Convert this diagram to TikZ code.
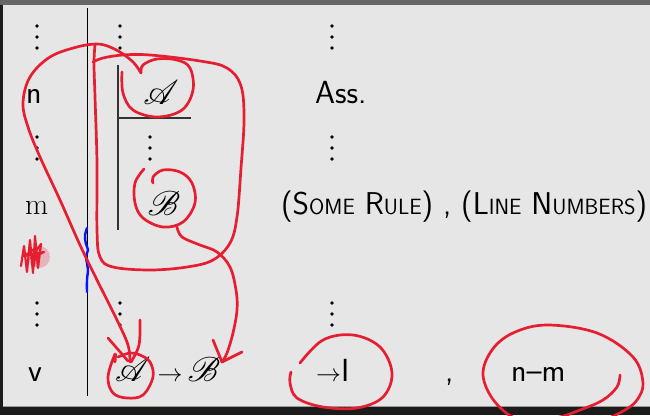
\documentclass[tikz,border=0pt]{standalone}
\usepackage{mathrsfs}
\usepackage{graphicx}
\definecolor{bg}{HTML}{E6E6E6}
\definecolor{topbar}{HTML}{666666}
\definecolor{darkbar}{HTML}{1C1C1C}
\definecolor{penred}{RGB}{230,30,50}
\definecolor{penblue}{RGB}{10,20,250}
\newcommand{\fsc}[2]{#1{\fontsize{22.4}{27}\selectfont #2}}
\newcommand{\scrbig}[1]{\scalebox{1.38}{\fontsize{24.88}{30}\selectfont$\mathscr{#1}$}}
\tikzset{
  lbl/.style={inner sep=0pt, anchor=base west, font=\sffamily\fontsize{32}{38}\selectfont},
  rlbl/.style={inner sep=0pt, anchor=base west, font=\rmfamily\fontsize{30}{36}\selectfont},
  mlbl/.style={inner sep=0pt, anchor=base},
  pen/.style={draw=penred, line width=2.7pt, line cap=round, line join=round},
  bpen/.style={draw=penblue, line width=2.4pt, line cap=round, line join=round},
  rule/.style={draw=black, line width=1pt},
  subrule/.style={draw=black!80, line width=1.2pt},
}
\begin{document}
\begin{tikzpicture}[x=1pt,y=-1pt]
\useasboundingbox (0,0) rectangle (650,415);
% frame
\fill[bg] (0,0) rectangle (650,415);
\fill[darkbar] (0,0) rectangle (3,415);
\fill[topbar] (0,0) rectangle (650,5);
\fill[darkbar] (0,406) rectangle (650,415);
\draw[black!40, line width=0.8pt] (3,406) -- (650,406);
% proof lines
\coordinate (mt) at (87,8); \coordinate (mb) at (87,396);
\draw[rule] (mt) -- (mb);
\coordinate (st) at (118,65); \coordinate (sb) at (118,230);
\draw[subrule] (st) -- (sb);
\coordinate (hl) at (118,118); \coordinate (hr) at (191,118);
\draw[subrule] (hl) -- (hr);
% dots
\foreach \x/\y in {37/26,120/26,332/26, 37/137,150/137,332/137, 37/303,120/303,332/303}{
  \foreach \d in {0,11,22}{ \fill (\x,\y+\d) circle (1.8pt); }
}
% text
\node[lbl] (n) at (26,103) {n};
\node[rlbl] (m) at (25,214) {m};
\node[lbl] (v) at (28,381) {v};
\node[mlbl] (sA) at (161,104) {\scrbig{A}};
\node[mlbl] (sB) at (164,215) {\scrbig{B}};
\node[lbl] (ass) at (315,103) {Ass.};
\node[lbl] (rl) at (281,214) {\resizebox{366pt}{!}{(\fsc{S}{OME} \fsc{R}{ULE}) , (\fsc{L}{INE} \fsc{N}{UMBERS})}};
\node[inner sep=0pt, anchor=base west] (ab) at (115,381) {\scrbig{A}\hspace{7pt}{\fontsize{27}{32}\selectfont$\rightarrow$}\hspace{5pt}\scrbig{B}};
\node[lbl] (ii) at (316,381) {{\fontsize{27}{32}\selectfont$\rightarrow$}I};
\node[lbl] (cm) at (445,381) {,};
\node[lbl] (nm) at (511,381) {n--m};
% blue wavy
\draw[bpen] plot[smooth, tension=0.7] coordinates {(87,228) (85,236) (86,244) (88,250) (86,256) (87,263) (88,270) (87,280) (87,292)};
% scribble
\fill[penred, opacity=0.25] (39,257) circle (11pt);
\draw[pen, line width=2.2pt] plot coordinates {(21,266) (24,246) (27,272) (30,240) (33,273) (35,236) (38,268) (41,244) (31,258) (44,252) (24,256) (36,248) (34,266)};
% circle around A + swoop to bottom A
\draw[pen] plot[smooth, tension=0.6] coordinates {(122,72) (123,93) (133,110) (157,117) (182,110) (193,90) (190,68) (177,60) (157,59) (143,65) (141,73)};
\draw[pen] plot[smooth, tension=0.6] coordinates {(141,73) (134,63) (123,54) (110,47) (97,44) (77,47) (50,57) (30,77) (23,103) (28,127) (40,157) (60,200) (80,245) (97,280) (117,320) (128,345) (130,362)};
\draw[pen] (108,338) -- (128,361);
\draw[pen] plot[smooth, tension=0.6] coordinates {(140,320) (139,345) (131,362)};
% big loop
\draw[pen] plot[smooth, tension=0.6] coordinates {(95,45) (94,63) (95,97) (97,163) (97,230) (100,257) (113,267) (150,270) (187,267) (213,260) (230,243) (237,217) (241,168) (244,120) (241,86) (227,68) (200,61) (150,55) (123,55) (103,58) (93,62)};
% circle around B + tail
\draw[pen] plot[smooth, tension=0.6] coordinates {(144,169) (135,183) (135,203) (143,218) (163,227) (183,222) (195,203) (192,183) (180,172) (163,170) (153,177) (153,183)};
\draw[pen] plot[smooth, tension=0.6] coordinates {(177,227) (182,237) (200,245) (217,252) (230,267) (236,290) (237,310) (233,333) (227,353) (222,362)};
\draw[pen] (213,340) -- (222,362) -- (242,352);
% circle around bottom A
\draw[pen] plot[smooth, tension=0.6] coordinates {(115,362) (115,354) (108,377) (113,393) (127,398) (143,395) (153,377) (150,362) (140,355) (130,353) (118,357)};
% ellipse around ->I
\draw[pen] plot[smooth, tension=0.6] coordinates {(300,363) (323,340) (353,335) (380,347) (392,373) (383,397) (357,408) (323,407) (297,398) (290,383) (291,372)};
% ellipse around n-m
\begin{scope}
\clip (0,0) rectangle (650,415);
\draw[pen] plot[smooth, tension=0.6] coordinates {(620,375) (617,387) (603,400) (580,410) (555,418) (520,420) (495,402) (483,375) (492,350) (513,333) (547,325) (597,333) (633,357) (643,383) (637,400) (625,410) (605,420)};
\end{scope}
\end{tikzpicture}
\end{document}
